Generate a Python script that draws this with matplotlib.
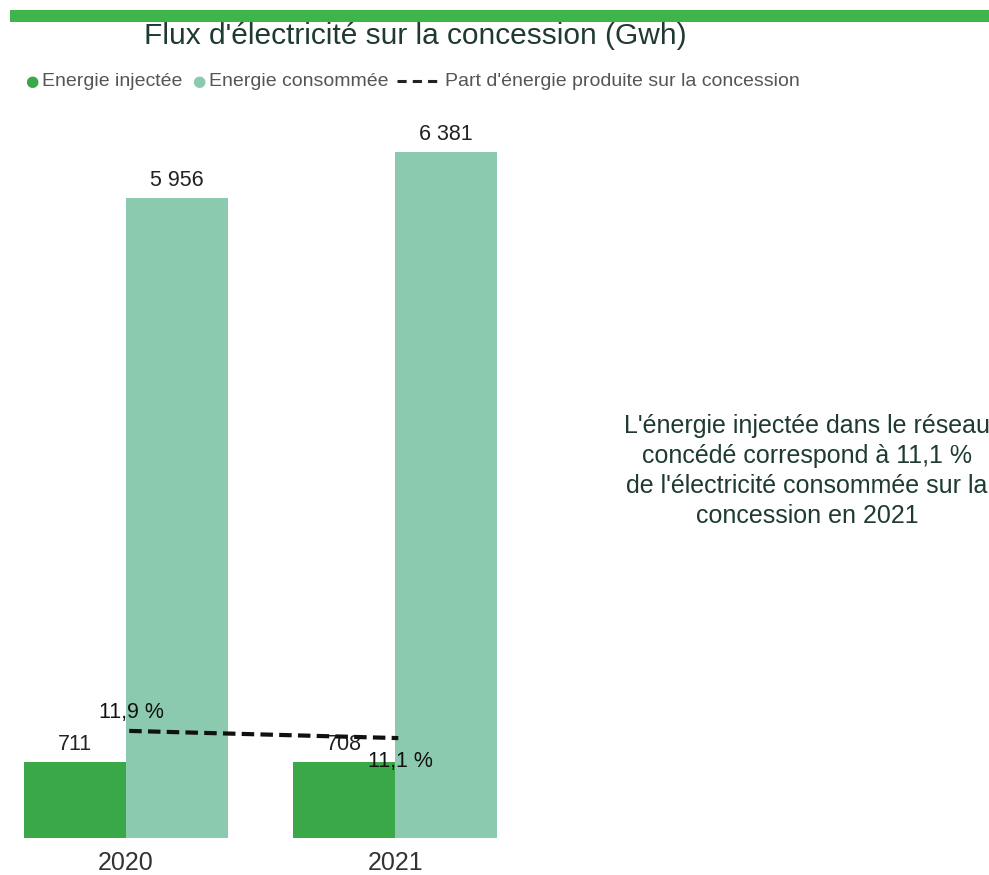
import matplotlib.pyplot as plt
import numpy as np
from matplotlib.patches import Rectangle

years = ['2020', '2021']
injected = [711, 708]
consumed = [5956, 6381]
share_pct = [11.9, 11.1]

plt.rcParams['font.family'] = ['Liberation Sans', 'DejaVu Sans']

C_INJ = '#3aa848'
C_CONS = '#8ccab0'
C_TXT = '#1e3a33'

fig = plt.figure(figsize=(9.89, 8.75), dpi=100)
W, H = 989, 875

# green banner across the top
fig.patches.append(Rectangle((10 / W, 1 - 22 / H), 1, 12 / H, transform=fig.transFigure,
                             color='#3db54a', lw=0, zorder=0))

fig.text(415 / W, 1 - 36 / H, "Flux d'électricité sur la concession (Gwh)",
         ha='center', va='center', fontsize=21.5, color=C_TXT)

# legend row
ly = 1 - 81 / H
fs_leg = 14
fig.text(25 / W, ly, '\u25cf', color=C_INJ, fontsize=11, ha='left', va='center', family='DejaVu Sans')
fig.text(42 / W, ly, 'Energie injectée', color='#555555', fontsize=fs_leg, ha='left', va='center')
fig.text(192 / W, ly, '\u25cf', color=C_CONS, fontsize=11, ha='left', va='center', family='DejaVu Sans')
fig.text(209 / W, ly, 'Energie consommée', color='#555555', fontsize=fs_leg, ha='left', va='center')
fig.add_artist(plt.Line2D([397 / W, 440 / W], [ly, ly], transform=fig.transFigure,
                          color='#222222', lw=2.2, ls=(0, (3, 2))))
fig.text(445 / W, ly, "Part d'énergie produite sur la concession", color='#555555',
         fontsize=fs_leg, ha='left', va='center')

# bar axes
ax = fig.add_axes([20 / W, 37 / H, 540 / W, 738 / H])
x = np.arange(len(years))
bw = 0.379
ax.bar(x - bw / 2, injected, bw, color=C_INJ, zorder=2)
ax.bar(x + bw / 2, consumed, bw, color=C_CONS, zorder=2)
ax.set_xlim(-0.394, 1.613)
ax.set_ylim(0, 738 / 0.10746)
for s in ax.spines.values():
    s.set_visible(False)
ax.set_yticks([])
ax.set_xticks(x)
ax.set_xticklabels(years, fontsize=18, color='#333333')
ax.tick_params(axis='x', length=0, pad=9)

for xi, v in zip(x, injected):
    ax.annotate(f'{v:,}'.replace(',', ' '), (xi - bw / 2, v), xytext=(0, 5),
                textcoords='offset points', ha='center', va='bottom', fontsize=15.5, color='#222222')
for xi, v in zip(x, consumed):
    ax.annotate(f'{v:,}'.replace(',', ' '), (xi + bw / 2, v), xytext=(0, 5),
                textcoords='offset points', ha='center', va='bottom', fontsize=15.5, color='#222222')

# share line on secondary axis
ax2 = ax.twinx()
ax2.set_ylim(0, 738 / 9.0)
ax2.plot(x + 0.012, share_pct, color='#111111', lw=3, ls=(0, (3, 1.5)), zorder=3)
ax2.axis('off')
ax2.annotate(f'{share_pct[0]:.1f} %'.replace('.', ','), (x[0], share_pct[0]), xytext=(4, 6),
             textcoords='offset points', ha='center', va='bottom', fontsize=15.5, color='#111111')
ax2.annotate(f'{share_pct[1]:.1f} %'.replace('.', ','), (x[1], share_pct[1]), xytext=(4, -9),
             textcoords='offset points', ha='center', va='top', fontsize=15.5, color='#111111')

# side note
note = ("L'énergie injectée dans le réseau\nconcédé correspond à 11,1 %\n"
        "de l'électricité consommée sur la\nconcession en 2021")
fig.text(807 / W, 1 - 471 / H, note, ha='center', va='center', fontsize=18,
         color=C_TXT, linespacing=1.3)

fig.savefig('out.png', dpi=100)
